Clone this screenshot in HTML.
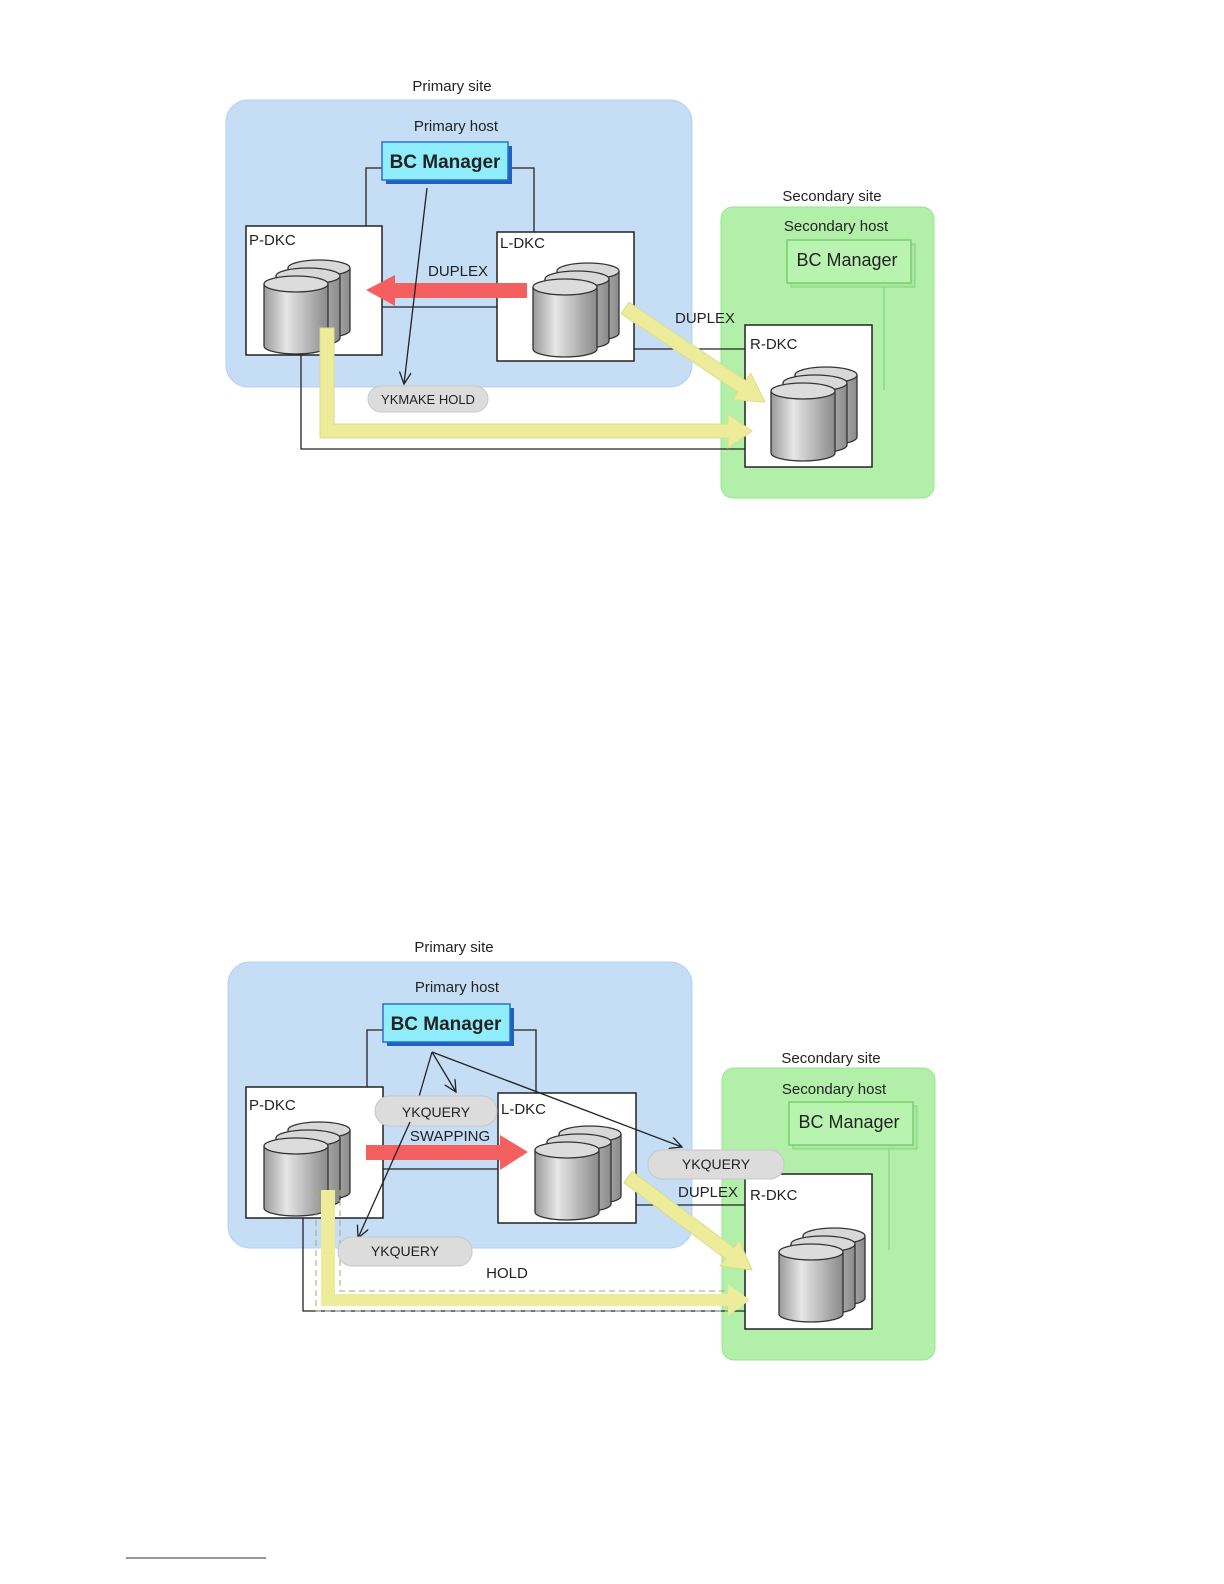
<!DOCTYPE html>
<html><head><meta charset="utf-8"><style>
html,body{margin:0;padding:0;background:#fff;width:1224px;height:1584px;overflow:hidden;}
svg{display:block;position:absolute;left:0;top:0;}
text{font-family:"Liberation Sans",sans-serif;fill:#222;}
</style></head><body>
<svg width="1224" height="1584" viewBox="0 0 1224 1584" xmlns="http://www.w3.org/2000/svg">
<defs>
<linearGradient id="cyl" x1="0" x2="1" y1="0" y2="0">
<stop offset="0" stop-color="#9a9a9a"/><stop offset="0.35" stop-color="#e6e6e6"/><stop offset="1" stop-color="#8a8a8a"/>
</linearGradient>
<g id="stack" stroke="#333" stroke-width="1.3">
<path d="M24,-16 v62 a31,8 0 0 0 62,0 v-62" fill="url(#cyl)"/><ellipse cx="55" cy="-16" rx="31" ry="8" fill="#d8d8d8"/>
<path d="M12,-8 v62 a32,8 0 0 0 64,0 v-62" fill="url(#cyl)"/><ellipse cx="44" cy="-8" rx="32" ry="8" fill="#d8d8d8"/>
<path d="M0,0 v62 a32,8 0 0 0 64,0 v-62" fill="url(#cyl)"/><ellipse cx="32" cy="0" rx="32" ry="8" fill="#dcdcdc"/>
</g>
<marker id="ah" markerWidth="14" markerHeight="14" refX="12" refY="6" orient="auto" markerUnits="userSpaceOnUse"><path d="M0,0 L12,6 L0,12" fill="none" stroke="#222" stroke-width="1.3"/></marker>
</defs>

<!-- ===== TOP DIAGRAM ===== -->
<text x="452" y="91" font-size="15" text-anchor="middle">Primary site</text>
<rect x="226" y="100" width="466" height="287" rx="22" fill="#c6ddf6" stroke="#b4d0f0"/>
<text x="456" y="131" font-size="15" text-anchor="middle">Primary host</text>
<text x="832" y="201" font-size="15" text-anchor="middle">Secondary site</text>
<rect x="721" y="207" width="213" height="291" rx="12" fill="#b2f0aa" stroke="#98e690"/>
<text x="836" y="231" font-size="15" text-anchor="middle">Secondary host</text>
<polyline points="382,168 366,168 366,226" fill="none" stroke="#222" stroke-width="1.3"/>
<polyline points="508,168 534,168 534,232" fill="none" stroke="#222" stroke-width="1.3"/>
<line x1="382" y1="307" x2="497" y2="307" stroke="#222" stroke-width="1.3"/>
<line x1="634" y1="349" x2="745" y2="349" stroke="#222" stroke-width="1.3"/>
<polyline points="301,355 301,449 745,449" fill="none" stroke="#222" stroke-width="1.3"/>
<polyline points="884,283 884,390" fill="none" stroke="#8ad882" stroke-width="1.3"/>
<rect x="386" y="146" width="126" height="38" fill="#2060c0"/>
<rect x="382" y="142" width="126" height="38" fill="#90eefc" stroke="#2a70c8" stroke-width="1.5"/>
<text x="445" y="168" font-size="19" font-weight="bold" text-anchor="middle">BC Manager</text>
<rect x="791" y="244" width="124" height="43" fill="#a8e8a0" stroke="#88d080"/>
<rect x="787" y="240" width="124" height="43" fill="#b8f4b0" stroke="#70c868" stroke-width="1.3"/>
<text x="847" y="266" font-size="18" text-anchor="middle">BC Manager</text>
<rect x="246" y="226" width="136" height="129" fill="#fff" stroke="#222" stroke-width="1.5"/>
<text x="249" y="245" font-size="15">P-DKC</text>
<rect x="497" y="232" width="137" height="129" fill="#fff" stroke="#222" stroke-width="1.5"/>
<text x="500" y="248" font-size="15">L-DKC</text>
<rect x="745" y="325" width="127" height="142" fill="#fff" stroke="#222" stroke-width="1.5"/>
<text x="750" y="349" font-size="15">R-DKC</text>
<use href="#stack" x="264" y="284"/>
<use href="#stack" x="533" y="287"/>
<use href="#stack" x="771" y="391"/>
<polygon points="527,283 395,283 395,275 366,290 395,306 395,298 527,298" fill="#f46060"/>
<text x="458" y="276" font-size="15" text-anchor="middle">DUPLEX</text>
<polygon points="628.9,302.2 745.7,380.6 750.7,373.1 765,402 732.9,399.7 737.9,392.2 621.1,313.8" fill="#ecec9a" stroke="#dcdc8c"/>
<polygon points="320,328 334,328 334,424 728,424 728,414 752,431 728,448 728,438 320,438" fill="#ecec9a" stroke="#dcdc8c"/>
<text x="705" y="323" font-size="15" text-anchor="middle">DUPLEX</text>
<line x1="427" y1="188" x2="404" y2="384" stroke="#222" stroke-width="1.3" marker-end="url(#ah)"/>
<rect x="368" y="386" width="120" height="26" rx="13" fill="#dcdcdc" stroke="#c8c8c8"/>
<text x="428" y="404" font-size="13" text-anchor="middle">YKMAKE HOLD</text>

<!-- ===== BOTTOM DIAGRAM ===== -->
<text x="454" y="952" font-size="15" text-anchor="middle">Primary site</text>
<rect x="228" y="962" width="464" height="286" rx="22" fill="#c6ddf6" stroke="#b4d0f0"/>
<text x="457" y="992" font-size="15" text-anchor="middle">Primary host</text>
<text x="831" y="1063" font-size="15" text-anchor="middle">Secondary site</text>
<rect x="722" y="1068" width="213" height="292" rx="12" fill="#b2f0aa" stroke="#98e690"/>
<text x="834" y="1094" font-size="15" text-anchor="middle">Secondary host</text>
<polyline points="383,1030 367,1030 367,1087" fill="none" stroke="#222" stroke-width="1.3"/>
<polyline points="510,1030 536,1030 536,1093" fill="none" stroke="#222" stroke-width="1.3"/>
<line x1="383" y1="1169" x2="498" y2="1169" stroke="#222" stroke-width="1.3"/>
<line x1="636" y1="1205" x2="745" y2="1205" stroke="#222" stroke-width="1.3"/>
<polyline points="303,1218 303,1311 745,1311" fill="none" stroke="#222" stroke-width="1.3"/>
<polyline points="889,1145 889,1250" fill="none" stroke="#8ad882" stroke-width="1.3"/>
<rect x="387" y="1008" width="127" height="38" fill="#2060c0"/>
<rect x="383" y="1004" width="127" height="38" fill="#90eefc" stroke="#2a70c8" stroke-width="1.5"/>
<text x="446" y="1030" font-size="19" font-weight="bold" text-anchor="middle">BC Manager</text>
<rect x="793" y="1106" width="124" height="43" fill="#a8e8a0" stroke="#88d080"/>
<rect x="789" y="1102" width="124" height="43" fill="#b8f4b0" stroke="#70c868" stroke-width="1.3"/>
<text x="849" y="1128" font-size="18" text-anchor="middle">BC Manager</text>
<rect x="246" y="1087" width="137" height="131" fill="#fff" stroke="#222" stroke-width="1.5"/>
<text x="249" y="1110" font-size="15">P-DKC</text>
<rect x="498" y="1093" width="138" height="130" fill="#fff" stroke="#222" stroke-width="1.5"/>
<text x="501" y="1114" font-size="15">L-DKC</text>
<rect x="745" y="1174" width="127" height="155" fill="#fff" stroke="#222" stroke-width="1.5"/>
<text x="750" y="1200" font-size="15">R-DKC</text>
<use href="#stack" x="264" y="1146"/>
<use href="#stack" x="535" y="1150"/>
<use href="#stack" x="779" y="1252"/>
<polygon points="366,1145 500,1145 500,1135 528,1152 500,1170 500,1160 366,1160" fill="#f46060"/>
<polygon points="632.2,1171.4 733.8,1247.6 739.2,1240.4 752,1270 720,1266 725.4,1258.8 623.8,1182.6" fill="#ecec9a" stroke="#dcdc8c"/>
<polygon points="321,1190 335,1190 335,1294 728,1294 728,1284 750,1300 728,1316 728,1306 321,1306" fill="#ecec9a"/>
<path d="M316,1190 V1311 H728 M340,1190 V1291 H728" fill="none" stroke="#a8a670" stroke-dasharray="6,4"/>
<text x="708" y="1197" font-size="15" text-anchor="middle">DUPLEX</text>
<text x="507" y="1278" font-size="15" text-anchor="middle">HOLD</text>
<line x1="432" y1="1052" x2="456" y2="1092" stroke="#222" stroke-width="1.3" marker-end="url(#ah)"/>
<line x1="432" y1="1052" x2="418" y2="1100" stroke="#222" stroke-width="1.3"/>
<line x1="432" y1="1052" x2="682" y2="1147" stroke="#222" stroke-width="1.3" marker-end="url(#ah)"/>
<rect x="375" y="1096" width="122" height="30" rx="15" fill="#dcdcdc" stroke="#c8c8c8"/>
<text x="436" y="1117" font-size="14" text-anchor="middle">YKQUERY</text>
<line x1="410" y1="1122" x2="358" y2="1238" stroke="#222" stroke-width="1.3" marker-end="url(#ah)"/>
<text x="450" y="1141" font-size="15" text-anchor="middle">SWAPPING</text>
<rect x="648" y="1150" width="136" height="29" rx="14" fill="#dcdcdc" stroke="#c8c8c8"/>
<text x="716" y="1169" font-size="14" text-anchor="middle">YKQUERY</text>
<rect x="338" y="1237" width="134" height="29" rx="14" fill="#dcdcdc" stroke="#c8c8c8"/>
<text x="405" y="1256" font-size="14" text-anchor="middle">YKQUERY</text>

<line x1="126" y1="1558" x2="266" y2="1558" stroke="#333" stroke-width="1"/>
</svg>
</body></html>
